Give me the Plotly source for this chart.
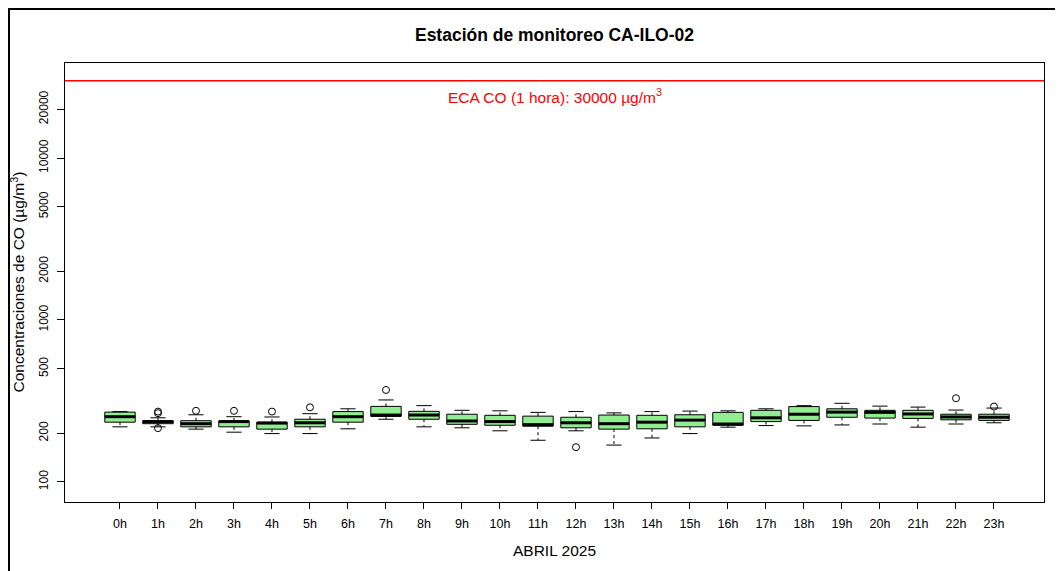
import math
import plotly.graph_objects as go

# ---------------- data ----------------
hour_labels = ["0h", "1h", "2h", "3h", "4h", "5h", "6h", "7h", "8h", "9h", "10h", "11h",
               "12h", "13h", "14h", "15h", "16h", "17h", "18h", "19h", "20h", "21h", "22h", "23h"]
lower_whisker = [219, 219, 212, 203, 199, 199, 213, 244, 219, 216, 207, 181,
                 207, 169, 187, 199, 218, 223, 222, 225, 228, 218, 228, 232]
q1 = [234, 229, 219, 219, 212, 219, 234, 254, 244, 227, 224, 221,
      216, 212, 213, 219, 224, 236, 240, 251, 248, 247, 242, 240]
median = [253, 236, 229, 236, 231, 232, 253, 259, 259, 238, 236, 226,
          232, 229, 234, 241, 228, 249, 262, 270, 269, 263, 252, 251]
q3 = [270, 239, 239, 238, 234, 244, 272, 293, 273, 262, 258, 255,
      251, 259, 258, 260, 269, 277, 292, 283, 277, 277, 262, 262]
upper_whisker = [272, 249, 260, 253, 252, 264, 283, 321, 296, 277, 275, 269,
                 272, 267, 272, 274, 275, 283, 296, 306, 294, 290, 278, 286]
outlier_hour = [1, 1, 1, 2, 3, 4, 5, 7, 12, 22, 23]
outlier_value = [272, 266, 215, 275, 275, 272, 289, 370, 164, 329, 292]
eca_limit = 30000
y_tick_values = [100, 200, 500, 1000, 2000, 5000, 10000, 20000]

# ---------------- styling / layout constants ----------------
FONT = "Liberation Sans, Arial, Helvetica, sans-serif"
BOX_FILL = "#90EE90"
BOX_W = 0.8
CAP_W = 0.4
X_RANGE = [-1.447, 24.316]
Y_RANGE = [1.8765, 4.5864]
FIG_W, FIG_H = 1055, 563   # page body adds an 8px margin

positions = list(range(len(hour_labels)))

fig = go.Figure()

# dashed whiskers
wx, wy = [], []
for p, lw, a, b, uw in zip(positions, lower_whisker, q1, q3, upper_whisker):
    wx += [p, p, None, p, p, None]
    wy += [b, uw, None, a, lw, None]
fig.add_trace(go.Scatter(x=wx, y=wy, mode="lines", hoverinfo="skip",
                         line=dict(color="black", width=1, dash="3px,3px"),
                         showlegend=False))

# whisker caps
cx, cy = [], []
for p, lw, uw in zip(positions, lower_whisker, upper_whisker):
    cx += [p - CAP_W / 2, p + CAP_W / 2, None, p - CAP_W / 2, p + CAP_W / 2, None]
    cy += [uw, uw, None, lw, lw, None]
fig.add_trace(go.Scatter(x=cx, y=cy, mode="lines", hoverinfo="skip",
                         line=dict(color="black", width=1), showlegend=False))

# boxes
fig.add_trace(go.Box(x=positions, q1=q1, median=median, q3=q3,
                     lowerfence=q1, upperfence=q3,
                     width=BOX_W, whiskerwidth=0, boxpoints=False,
                     fillcolor=BOX_FILL, line=dict(color="black", width=1),
                     showlegend=False))

# thick medians
mx, my = [], []
for p, m in zip(positions, median):
    mx += [p - BOX_W / 2, p + BOX_W / 2, None]
    my += [m, m, None]
fig.add_trace(go.Scatter(x=mx, y=my, mode="lines", hoverinfo="skip",
                         line=dict(color="black", width=3), showlegend=False))

# outliers
fig.add_trace(go.Scatter(x=outlier_hour, y=outlier_value, mode="markers",
                         marker=dict(symbol="circle-open", size=7, color="black",
                                     line=dict(width=1, color="black")),
                         showlegend=False))

# ECA limit line
fig.add_shape(type="line", xref="paper", x0=0, x1=1, yref="y",
              y0=eca_limit, y1=eca_limit, line=dict(color="#FF0000", width=1.5))
fig.add_annotation(xref="paper", x=0.5, yref="y", y=math.log10(eca_limit),
                   yshift=-15, showarrow=False,
                   text="ECA CO (1 hora): 30000 µg/m<sup>3</sup>",
                   font=dict(family=FONT, size=15.5, color="#FF0000"))

# axis titles
fig.add_annotation(xref="paper", yref="paper", x=-0.049, y=0.5, textangle=-90,
                   showarrow=False, xanchor="center", yanchor="middle",
                   text="Concentraciones de CO (µg/m<sup>3</sup>)",
                   font=dict(family=FONT, size=15.5, color="black"))
fig.add_annotation(xref="paper", yref="paper", x=0.5, y=-0.1116,
                   showarrow=False, xanchor="center", yanchor="middle",
                   text="ABRIL 2025", font=dict(family=FONT, size=15.5, color="black"))

# outer frame
fig.add_shape(type="rect", xref="paper", yref="paper",
              x0=-0.0572, x1=1.05, y0=-0.2, y1=1.123,
              line=dict(color="black", width=2))

fig.update_layout(
    width=FIG_W, height=FIG_H,
    margin=dict(l=57, r=19, t=55, b=69, autoexpand=False),
    paper_bgcolor="white", plot_bgcolor="white",
    font=dict(family=FONT, color="black"),
    title=dict(text="<b>Estación de monitoreo CA-ILO-02</b>", x=0.5, xref="paper",
               y=1 - 27 / FIG_H, yanchor="middle", xanchor="center",
               font=dict(family=FONT, size=17.5, color="black")),
    xaxis=dict(range=X_RANGE, tickmode="array", tickvals=positions, ticktext=hour_labels,
               ticks="outside", ticklen=6, tickcolor="black", showgrid=False,
               zeroline=False, showline=True, mirror=True, linecolor="black",
               linewidth=1, ticklabelstandoff=4,
               tickfont=dict(family=FONT, size=12.5, color="black")),
    yaxis=dict(type="log", range=Y_RANGE, tickmode="array", tickvals=y_tick_values,
               ticktext=[str(v) for v in y_tick_values], tickangle=-90,
               ticks="outside", ticklen=7, tickcolor="black", showgrid=False,
               zeroline=False, showline=True, mirror=True, linecolor="black",
               linewidth=1, ticklabelstandoff=4,
               tickfont=dict(family=FONT, size=12, color="black")),
)

fig.write_html("out.html")
